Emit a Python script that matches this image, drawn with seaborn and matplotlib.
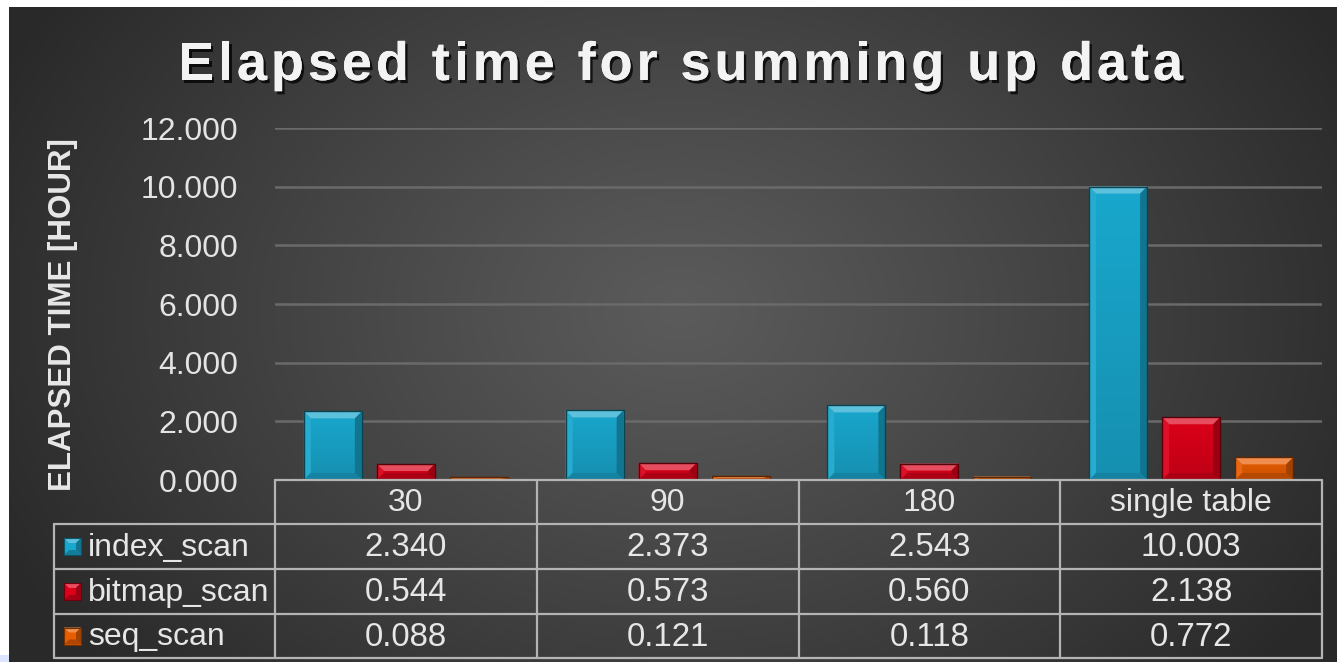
import numpy as np
import pandas as pd
import matplotlib
matplotlib.use("Agg")
import matplotlib.pyplot as plt
import seaborn as sns
import matplotlib.patheffects as pe
from matplotlib.patches import Polygon, Rectangle, PathPatch
from matplotlib.textpath import TextPath
from matplotlib.font_manager import FontProperties, findfont
from matplotlib.ft2font import FT2Font
from matplotlib.transforms import Affine2D
from matplotlib.colors import to_rgb

# ---- data ----
categories = ["30", "90", "180", "single table"]
series = ["index_scan", "bitmap_scan", "seq_scan"]
index_scan = [2.340, 2.373, 2.543, 10.003]
bitmap_scan = [0.544, 0.573, 0.560, 2.138]
seq_scan = [0.088, 0.121, 0.118, 0.772]
y_ticks = [0, 2, 4, 6, 8, 10, 12]
title = "Elapsed time for summing up data"
y_label = "ELAPSED TIME [HOUR]"

values = {"index_scan": index_scan, "bitmap_scan": bitmap_scan, "seq_scan": seq_scan}
face_colors = {"index_scan": "#19a7cd", "bitmap_scan": "#dc0019", "seq_scan": "#e85d02"}

df = pd.DataFrame(
    [(c, s, values[s][i]) for s in series for i, c in enumerate(categories)],
    columns=["category", "series", "value"],
)

W, H = 1337, 662
sns.set_theme(style="dark")
plt.rcParams["font.family"] = ["Liberation Sans", "DejaVu Sans"]

fig = plt.figure(figsize=(W / 100, H / 100), dpi=100)
fig.patch.set_facecolor("white")


def mix(c, other, t):
    c = np.array(to_rgb(c))
    o = np.array(to_rgb(other))
    return tuple(c * (1 - t) + o * t)


# ---- dark radial background ----
bg = fig.add_axes([0, 0, 1, 1], zorder=0)
yy, xx = np.mgrid[0:H, 0:W]
r = np.sqrt(((xx - 680) / 760.0) ** 2 + ((yy - 310) / 560.0) ** 2)
v = (0x5b - (0x5b - 0x29) * np.clip(r, 0, 1) ** 1.1) / 255.0
img = np.dstack([v, v, v])
img[:7, :] = 1.0
img[:, :9] = 1.0
img[655:, :9] = (0.86, 0.90, 1.0)
bg.imshow(img, extent=(0, W, H, 0), aspect="auto", interpolation="bilinear")
bg.set_xlim(0, W)
bg.set_ylim(H, 0)
bg.axis("off")

# ---- bar chart ----
L, R, T, B = 275, 1322, 128, 480
ax = fig.add_axes([L / W, (H - B) / H, (R - L) / W, (B - T) / H], zorder=1)
ax.patch.set_alpha(0)
sns.barplot(
    data=df, x="category", y="value", hue="series", palette=face_colors,
    order=categories, hue_order=series, width=0.837, gap=0.205,
    saturation=1, legend=False, ax=ax, linewidth=0,
)
ax.set_xlim(-0.5, len(categories) - 0.5)
ax.set_ylim(0, 12)
ax.set_yticks(y_ticks)
ax.set_yticklabels([f"{t:.3f}" for t in y_ticks])
ax.set_xticks([])
ax.set_xlabel("")
ax.set_ylabel("")
ax.tick_params(axis="y", length=0, pad=26.5, labelsize=23, labelcolor="#e4e4e4")
ax.grid(axis="y", color="#6a6a6a", lw=1.8)
ax.grid(axis="x", visible=False)
ax.set_axisbelow(True)
for s in ax.spines.values():
    s.set_visible(False)

px_x = (R - L) / len(categories)
px_y = (B - T) / 12.0


def bevel(axis, x0, y0, w, h, color, bpx_x, bpx_y, zo=3):
    """Draw a bevelled block: face plus four sloped facets."""
    bx = min(bpx_x, w / 2)
    by = min(bpx_y, h / 2)
    x1, y1 = x0 + w, y0 + h
    top = [(x0, y1), (x1, y1), (x1 - bx, y1 - by), (x0 + bx, y1 - by)]
    left = [(x0, y0), (x0, y1), (x0 + bx, y1 - by), (x0 + bx, y0 + by)]
    right = [(x1, y0), (x1, y1), (x1 - bx, y1 - by), (x1 - bx, y0 + by)]
    bot = [(x0, y0), (x1, y0), (x1 - bx, y0 + by), (x0 + bx, y0 + by)]
    axis.add_patch(Polygon(top, closed=True, fc=mix(color, "white", 0.30), ec="none", zorder=zo))
    axis.add_patch(Polygon(left, closed=True, fc=mix(color, "white", 0.06), ec="none", zorder=zo))
    axis.add_patch(Polygon(right, closed=True, fc=mix(color, "black", 0.30), ec="none", zorder=zo))
    axis.add_patch(Polygon(bot, closed=True, fc=mix(color, "black", 0.22), ec="none", zorder=zo))
    axis.add_patch(Rectangle((x0, y0), w, h, fc="none", ec=mix(color, "black", 0.6), lw=1.0, zorder=zo + 0.1))


for p in list(ax.patches):
    x0, w, h = p.get_x(), p.get_width(), p.get_height()
    if h <= 0:
        continue
    col = p.get_facecolor()
    # vertical shading of the face
    grad = np.linspace(0, 1, 64)[:, None]
    base = np.array(col[:3])
    shade = base[None, None, :] * (0.86 + 0.14 * grad[:, :, None])
    im = ax.imshow(shade, extent=(x0, x0 + w, 0, h), origin="lower", aspect="auto", zorder=2.5)
    im.set_clip_path(p)
    bevel(ax, x0, 0, w, h, col[:3], 7 / px_x, 7 / px_y)
ax.set_xlim(-0.5, len(categories) - 0.5)
ax.set_ylim(0, 12)

# ---- data table below the plot ----
tab = fig.add_axes([0, 0, 1, 1], zorder=2)
tab.patch.set_alpha(0)
tab.set_xlim(0, W)
tab.set_ylim(H, 0)
tab.axis("off")

col_edges = np.linspace(L, R, len(categories) + 1)
row_edges = [480, 524, 569, 614, 658]
left_edge = 54
lc = "#b4b4b4"
lw = 1.6
tab.plot([L, R], [row_edges[0]] * 2, color=lc, lw=lw)
for ye in row_edges[1:]:
    tab.plot([left_edge, R], [ye, ye], color=lc, lw=lw)
tab.plot([left_edge, left_edge], [row_edges[1], row_edges[-1]], color=lc, lw=lw)
for xe in col_edges:
    tab.plot([xe, xe], [row_edges[0], row_edges[-1]], color=lc, lw=lw)

txt_color = "#e6e6e6"
fs = 23
for j, c in enumerate(categories):
    xc = (col_edges[j] + col_edges[j + 1]) / 2
    tab.text(xc, (row_edges[0] + row_edges[1]) / 2 + 1, c, ha="center", va="center",
             fontsize=fs, color=txt_color)

for i, s in enumerate(series):
    yc = (row_edges[i + 1] + row_edges[i + 2]) / 2
    tab.text(88, yc + 1, s, ha="left", va="center", fontsize=fs, color=txt_color)
    for j, val in enumerate(values[s]):
        xc = (col_edges[j] + col_edges[j + 1]) / 2
        tab.text(xc, yc + 1, f"{val:.3f}", ha="center", va="center", fontsize=23.8, color=txt_color)
    # legend key
    kc = face_colors[s]
    k0, ks = 64, 17
    tab.add_patch(Rectangle((k0, yc - ks / 2), ks, ks, fc=kc, ec="none", zorder=3))
    bx = 5
    ky0, ky1 = yc - ks / 2, yc + ks / 2
    tab.add_patch(Polygon([(k0, ky0), (k0 + ks, ky0), (k0 + ks - bx, ky0 + bx), (k0 + bx, ky0 + bx)],
                          fc=mix(kc, "white", 0.3), ec="none", zorder=3.1))
    tab.add_patch(Polygon([(k0 + ks, ky0), (k0 + ks, ky1), (k0 + ks - bx, ky1 - bx), (k0 + ks - bx, ky0 + bx)],
                          fc=mix(kc, "black", 0.3), ec="none", zorder=3.1))
    tab.add_patch(Polygon([(k0, ky1), (k0 + ks, ky1), (k0 + ks - bx, ky1 - bx), (k0 + bx, ky1 - bx)],
                          fc=mix(kc, "black", 0.25), ec="none", zorder=3.1))
    tab.add_patch(Rectangle((k0, ky0), ks, ks, fc="none", ec=mix(kc, "black", 0.5), lw=0.8, zorder=3.2))

# ---- axis label ----
tab.text(63, 315, y_label, rotation=90, ha="center", va="center", fontsize=22.5,
         weight="bold", color="#e8e8e8")

# ---- spaced-out title with drop shadow ----
fp = FontProperties(family="Liberation Sans", weight="bold")
em = 54.0
font = FT2Font(findfont(fp))
font.set_size(em * 72 / 100.0, 100)
adv = []
for ch in title:
    g = font.load_char(ord(ch))
    adv.append(g.linearHoriAdvance / 65536.0)
spacing = (1005 - sum(adv)) / (len(title) - 1)
total = sum(adv) + spacing * (len(title) - 1)
x = 680.5 - total / 2
baseline = 80
for ch, a in zip(title, adv):
    if ch != " ":
        tp = TextPath((0, 0), ch, size=em, prop=fp)
        tr = Affine2D().scale(1, -1).translate(x, baseline) + tab.transData
        patch = PathPatch(tp, transform=tr, fc="#f3f3f3", ec="none", zorder=5,
                          path_effects=[pe.withSimplePatchShadow(offset=(1.8, -2.2),
                                                                 shadow_rgbFace="black", alpha=0.75),
                                        pe.Normal()])
        tab.add_patch(patch)
    x += a + spacing

fig.savefig("out.png", dpi=100, facecolor=fig.get_facecolor())
